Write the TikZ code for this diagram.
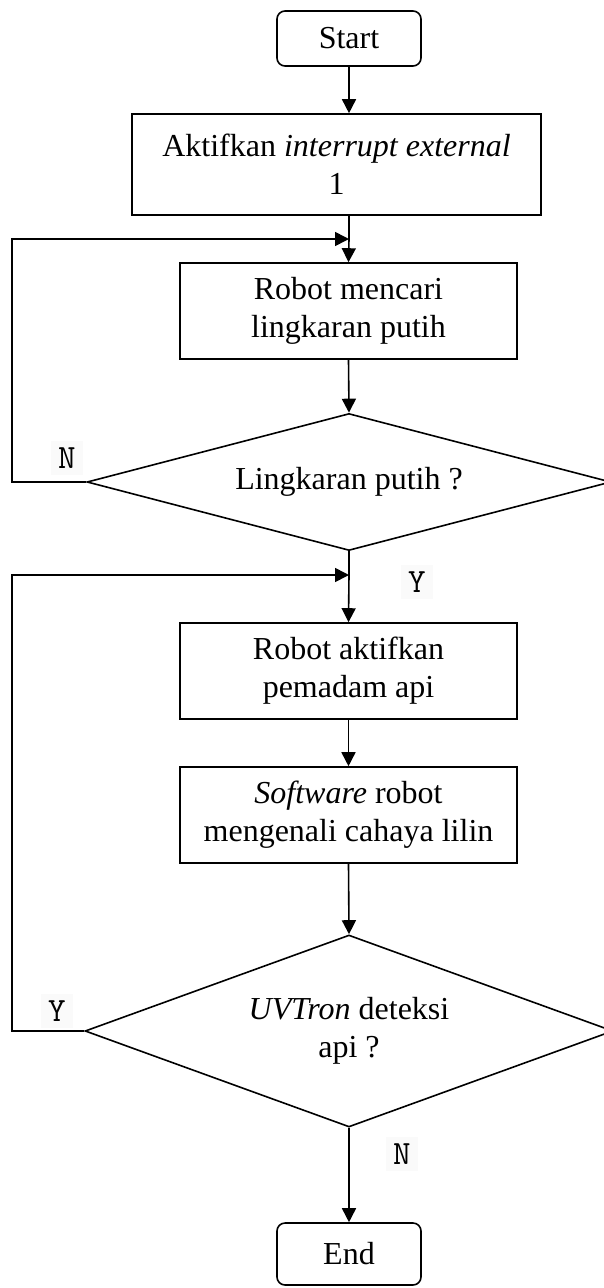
\documentclass[tikz,border=0pt]{standalone}
\usepackage{fontspec}
\setmainfont{Liberation Serif}
\usetikzlibrary{shapes.geometric,arrows.meta}
\begin{document}
\begin{tikzpicture}[x=1pt,y=-1pt,
  line width=1.6pt,
  font=\fontsize{32}{38}\selectfont,
  flow/.style={-{Triangle[length=14pt,width=14pt]}},
  term/.style={draw,rounded corners=8pt,minimum width=144pt,inner sep=0pt},
  proc/.style={draw,minimum width=337pt,minimum height=96pt,align=center,inner sep=0pt},
  decide/.style={draw,diamond,inner sep=0pt,align=center},
  tag/.style={fill=black!2,inner sep=7pt,font=\ttfamily\fontsize{34}{34}\selectfont}]
\useasboundingbox (0,0) rectangle (604,1288);

\node[term,minimum height=55pt] (start) at (349,38.5) {Start};
\node[proc,minimum width=409pt,minimum height=101pt] (act) at (336.5,164.5)
  {Aktifkan \textit{interrupt external}\\1};
\node[proc] (cari) at (348.5,311) {Robot mencari\\lingkaran putih};
\node[decide,minimum width=524pt,minimum height=137pt,aspect=3.82] (d1) at (349,482)
  {Lingkaran putih ?};
\node[proc] (padam) at (348.5,671) {Robot aktifkan\\pemadam api};
\node[proc] (soft) at (348.5,815) {\textit{Software} robot\\mengenali cahaya lilin};
\node[decide,minimum width=528pt,minimum height=192pt,aspect=2.75] (d2) at (349,1031)
  {\textit{UVTron} deteksi\\api ?};
\node[term,minimum height=62pt] (end) at (349,1254) {End};

\node[tag] (n1) at (67,458) {N};
\node[tag] (y1) at (417,582) {Y};
\node[tag] (y2) at (57,1011) {Y};
\node[tag] (n2) at (402,1154) {N};

\coordinate (j1) at (349,239);
\coordinate (j2) at (349,575);
\coordinate (lx1) at (12,482);
\coordinate (lx2) at (12,1031);

% main flow
\draw[flow] (start.south) -- (start.south |- act.north);
\draw (act.south -| j1) -- (j1);
\draw[flow] (j1) -- (cari.north);
\draw[flow] (cari.south) -- (d1.north);
\draw (d1.south) -- (j2);
\draw[flow] (j2) -- (padam.north);
\draw[flow] (padam.south) -- (soft.north);
\draw[flow] (soft.south) -- (d2.north);
\draw[flow] (d2.south) -- (end.north);

% loops back
\draw[flow] (d1.west) -- (lx1) |- (j1);
\draw[flow] (d2.west) -- (lx2) |- (j2);
\end{tikzpicture}
\end{document}
